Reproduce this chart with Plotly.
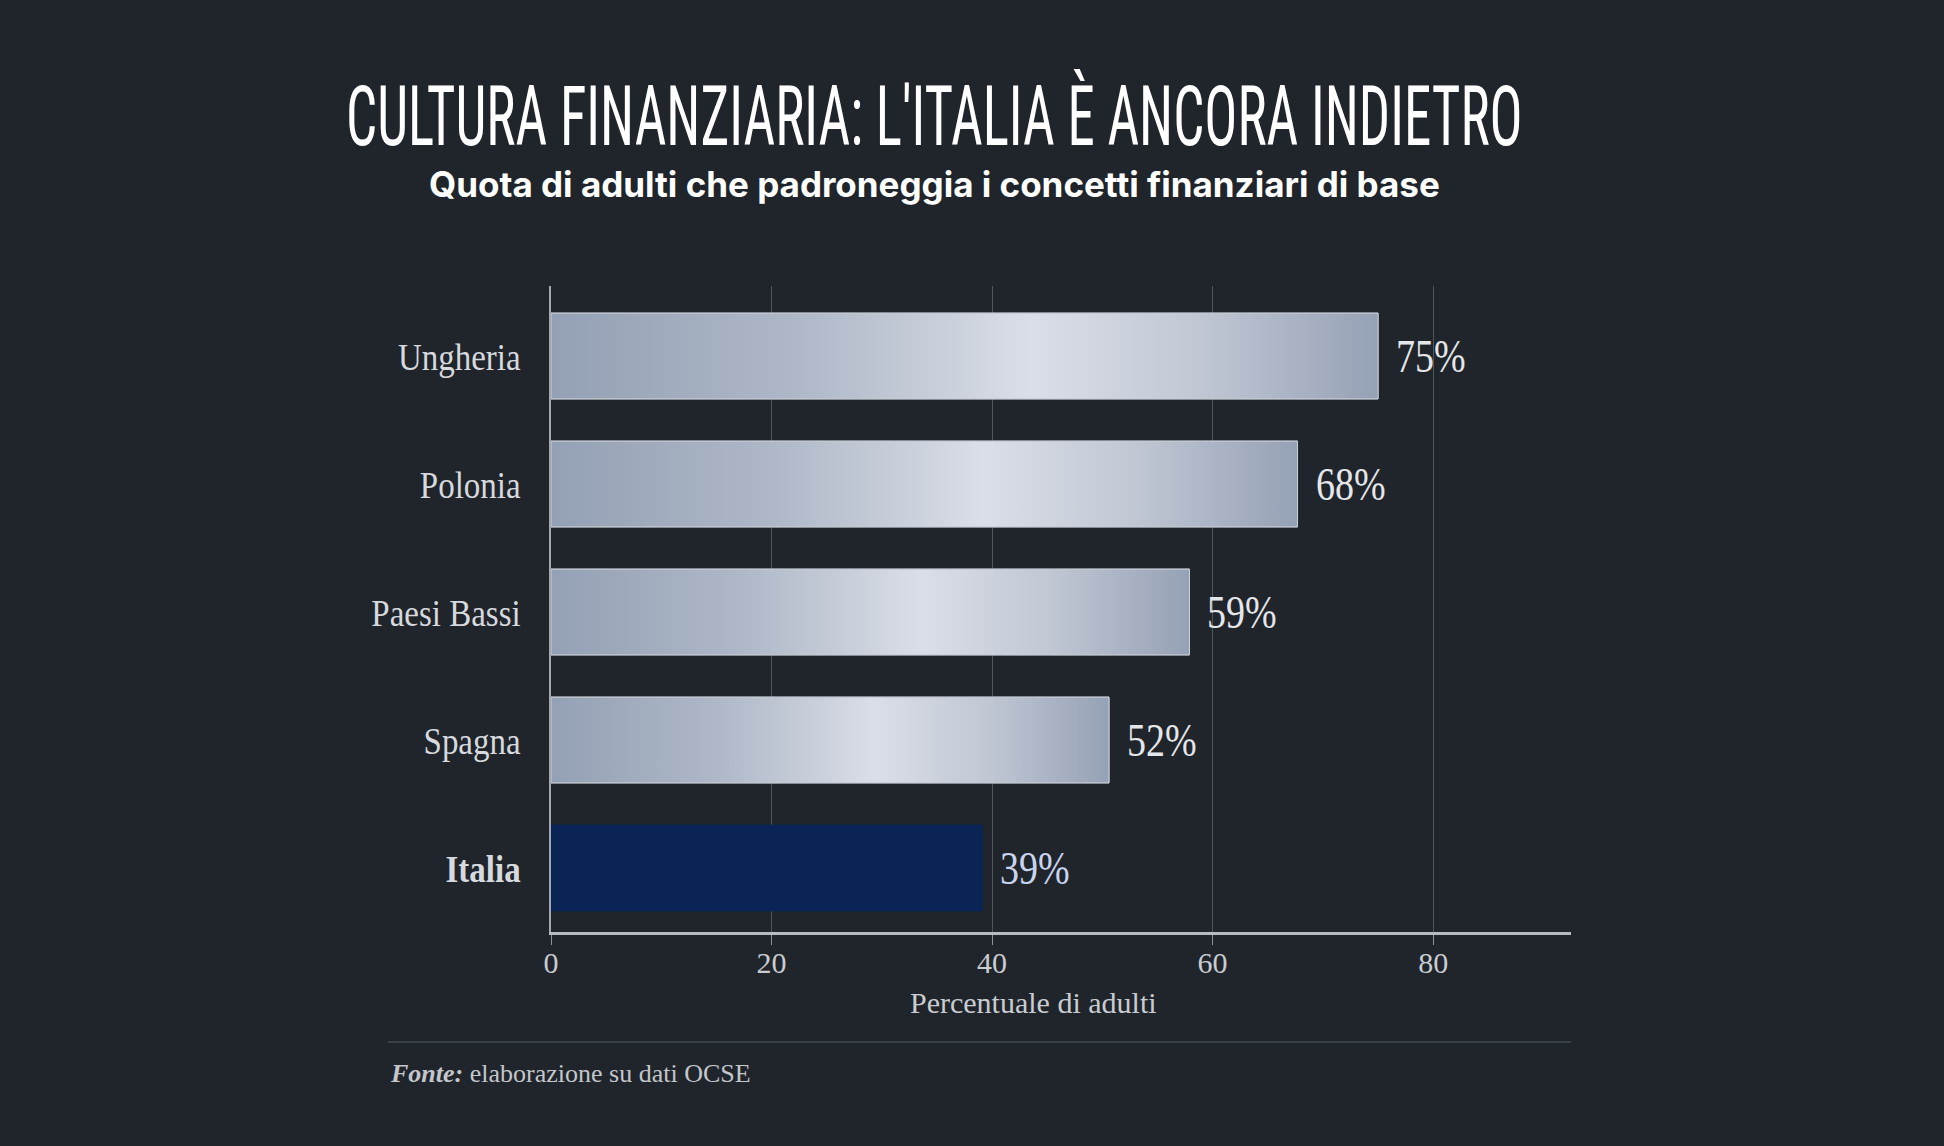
import plotly.graph_objects as go

# ---- data ----
categories = ["Ungheria", "Polonia", "Paesi Bassi", "Spagna", "Italia"]
values = [75, 67.7, 57.9, 50.6, 39.1]          # bar lengths as drawn in the original
value_labels = ["75%", "68%", "59%", "52%", "39%"]  # printed labels of the original
highlight = "Italia"
x_ticks = [0, 20, 40, 60, 80]

title_text = "CULTURA FINANZIARIA: L'ITALIA È ANCORA INDIETRO"
subtitle_text = "Quota di adulti che padroneggia i concetti finanziari di base"
x_title = "Percentuale di adulti"
source_text = "<b><i>Fonte:</i></b> elaborazione su dati OCSE"

# ---- styles ----
BG = "#20252b"
SILVER_SCALE = [[0.0, "#94a0b4"], [0.3, "#aeb8c7"], [0.58, "#dadee7"],
                [0.78, "#c1c8d4"], [1.0, "#95a1b5"]]
SILVER_MID = "#b9c1cf"
NAVY = "#0b2456"
SERIF = "Liberation Serif, DejaVu Serif, serif"
BAR_W = 0.67

n = len(categories)
pos = [n - 1 - i for i in range(n)]

fig = go.Figure()

fig.add_trace(go.Bar(
    y=pos, x=values, orientation="h", width=BAR_W,
    marker=dict(
        color=[NAVY if c == highlight else SILVER_MID for c in categories],
        line=dict(color=["#0b2456" if c == highlight else "#c9ced7" for c in categories], width=1),
    ),
    hovertext=categories, hoverinfo="text+x", showlegend=False,
))

# metallic gradient overlay for the silver bars (built from the same values)
for c, v, p in zip(categories, values, pos):
    if c == highlight:
        continue
    y0, y1 = p - BAR_W / 2, p + BAR_W / 2
    fig.add_trace(go.Scatter(
        x=[0, v, v, 0, 0], y=[y0, y0, y1, y1, y0],
        mode="lines", fill="toself",
        fillgradient=dict(type="horizontal", colorscale=SILVER_SCALE),
        line=dict(color="#c9ced7", width=1),
        hoverinfo="skip", showlegend=False,
    ))

# value labels (annotation indices 0..n-1)
for c, v, lab, p in zip(categories, values, value_labels, pos):
    fig.add_annotation(
        x=v, y=p, text=lab, showarrow=False, xanchor="left", yanchor="middle",
        xshift=16, font=dict(family=SERIF, size=38,
                             color="#c9d4ee" if c == highlight else "#e4e6ea"),
    )

ticktext = [f"<b>{c}</b>" if c == highlight else c for c in categories]

L, R, T, B = 551, 373, 286, 214
W, H = 1944, 1146
pw, ph = W - L - R, H - T - B

def px(x):
    return (x - L) / pw

def py(y):
    return (H - B - y) / ph

fig.update_layout(
    width=W, height=H,
    paper_bgcolor=BG, plot_bgcolor=BG,
    margin=dict(l=L, r=R, t=T, b=B),
    xaxis=dict(
        range=[0, 92.5], tickvals=x_ticks, showgrid=True, gridcolor="#50565e", gridwidth=1,
        zeroline=False, showline=True, linecolor="#b8bcc2", linewidth=3,
        ticks="outside", ticklen=10, tickcolor="#8d9299", tickwidth=1,
        ticklabelstandoff=-8,
        tickfont=dict(family=SERIF, size=30, color="#c9ccd1"),
        fixedrange=True,
    ),
    yaxis=dict(
        range=[-0.5, n - 0.5 + 0.047], tickvals=pos, ticktext=ticktext,
        showgrid=False, zeroline=False, showline=True, linecolor="#a3a8af", linewidth=1.5,
        ticks="", ticklabelstandoff=22,
        tickfont=dict(family=SERIF, size=33, color="#d6d9de"),
        fixedrange=True,
    ),
    shapes=[dict(type="line", xref="paper", yref="paper",
                 x0=px(388), x1=px(1571), y0=py(1042), y1=py(1042),
                 line=dict(color="#3a4047", width=2))],
)

fig.add_annotation(xref="paper", yref="paper", x=px(934), y=py(116.5),
                   text=title_text, showarrow=False, xanchor="center", yanchor="middle",
                   font=dict(family="Roboto Condensed, DejaVu Sans Condensed, sans-serif",
                             size=55, color="#ffffff"))
fig.add_annotation(xref="paper", yref="paper", x=px(934), y=py(184),
                   text=f"<b>{subtitle_text}</b>", showarrow=False, xanchor="center", yanchor="middle",
                   font=dict(family="Inter, Roboto, sans-serif", size=35, color="#ffffff"))
fig.add_annotation(xref="paper", yref="paper", x=px(1033), y=py(1002),
                   text=x_title, showarrow=False, xanchor="center", yanchor="middle",
                   font=dict(family=SERIF, size=30, color="#c9ccd1"))
fig.add_annotation(xref="paper", yref="paper", x=px(388), y=py(1073),
                   text=source_text, showarrow=False, xanchor="left", yanchor="middle",
                   font=dict(family=SERIF, size=26, color="#c3c6cb"))

TITLE_IDX = n
# vertical stretch to imitate the condensed typefaces of the original
stretch = {TITLE_IDX: 1.5}
for i in range(n):
    stretch[i] = 1.22
stretch_js = ",".join(f'"{k}":{v}' for k, v in stretch.items())

post = """
var gd = document.getElementById('{plot_id}');
function sy(el, s){
  var b = el.getBBox(); var cy = b.y + b.height/2;
  var t = el.getAttribute('transform') || '';
  el.setAttribute('transform', t + ' translate(0,' + cy + ') scale(1,' + s + ') translate(0,' + (-cy) + ')');
}
var specs = {%s};
for (var k in specs) {
  var el = gd.querySelector('g.annotation[data-index="' + k + '"] text.annotation-text');
  if (el) sy(el, specs[k]);
}
gd.querySelectorAll('g.ytick text').forEach(function(e){ sy(e, 1.18); });
document.body.style.margin = '0';
document.body.style.background = '#20252b';
""" % stretch_js

fig.write_html("out.html", post_script=post, config={"displayModeBar": False})
